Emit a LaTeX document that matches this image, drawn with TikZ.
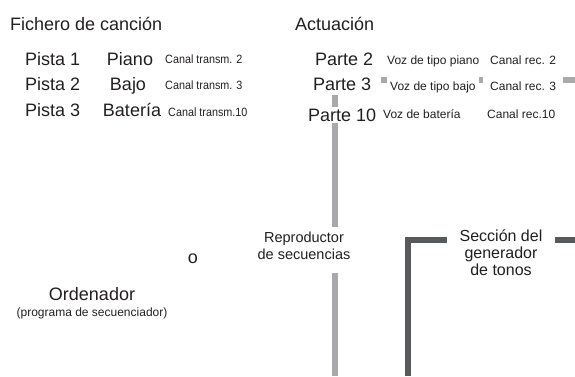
\documentclass[tikz,border=0pt]{standalone}
\usepackage{fontspec}
\setmainfont{Liberation Sans}
\newfontfamily\narrowsans[FakeStretch=0.9]{Liberation Sans}
\usetikzlibrary{positioning, backgrounds}
\definecolor{ink}{HTML}{231F20}
\definecolor{barlight}{HTML}{A7A9AC}
\definecolor{bardark}{HTML}{58595B}

\begin{document}
\begin{tikzpicture}[
	x=1pt, y=-1pt,
	every node/.style={text=ink, inner sep=0pt},
	big/.style={font=\fontsize{18}{21}\selectfont},
	mid/.style={font=\fontsize{14.5}{17}\selectfont, align=center},
	small/.style={font=\fontsize{12}{14}\selectfont},
	tiny/.style={font=\narrowsans\fontsize{12}{14}\selectfont},
	cover/.style={fill=white},
	lightbar/.style={draw=barlight, line width=5.5pt},
	darkbar/.style={draw=bardark, line width=6pt}
]
\useasboundingbox (0,0) rectangle (575,376);

% Song file
\node[big, anchor=base west] (song) at (10,30) {Fichero de canción};
\node[big, anchor=base west] (track1) at (25,65) {Pista 1};
\node[big, anchor=base] (piano) at (130,65) {Piano};
\node[tiny, anchor=base west] (tx1) at (165,63) {Canal transm. 2};
\node[big, anchor=base west] (track2) at (25,90) {Pista 2};
\node[big, anchor=base] (bass) at (128,90) {Bajo};
\node[tiny, anchor=base west] (tx2) at (165,89) {Canal transm. 3};
\node[big, anchor=base west] (track3) at (25,116) {Pista 3};
\node[big, anchor=base] (drums) at (132,116) {Batería};
\node[tiny, anchor=base west] (tx3) at (168,116) {Canal transm.10};

% Performance
\node[big, anchor=base west] (perf) at (295,30) {Actuación};
\node[big, anchor=base west] (part2) at (315,65) {Parte 2};
\node[small, anchor=base west] (voice2) at (387,64) {Voz de tipo piano};
\node[small, anchor=base west] (rx2) at (490,64) {Canal rec. 2};
\node[big, anchor=base west] (part3) at (313,90) {Parte 3};
\node[small, cover, inner xsep=3.5pt, inner ysep=5pt, anchor=base west] (voice3) at (386.5,90) {Voz de tipo bajo};
\node[small, cover, inner xsep=7pt, inner ysep=5pt, anchor=base west] (rx3) at (483,90) {Canal rec. 3};
\node[big, cover, inner ysep=1.5pt, anchor=base west] (part10) at (308,121) {Parte 10};
\node[small, anchor=base west] (voice10) at (383,118) {Voz de batería};
\node[small, anchor=base west] (rx10) at (487,118) {Canal rec.10};

% Devices
\node[mid, cover, inner xsep=4pt, inner ysep=4.5pt, text depth=9.5pt, anchor=north] (player) at (304,227) {Reproductor\\de secuencias};
\node[big, anchor=base] (or) at (193,263) {o};
\node[mid, font=\fontsize{16}{17}\selectfont, cover, inner xsep=13pt, inner ysep=2pt, anchor=north] (tonegen) at (501,228) {Sección del\\generador\\de tonos};
\node[big, anchor=base] (computer) at (92,300) {Ordenador};
\node[small, anchor=base] (seqprog) at (92,316) {(programa de secuenciador)};

% Lines
\begin{scope}[on background layer]
\coordinate (bartop) at (335,95);
\coordinate (barbot) at (335,376);
\draw[lightbar] (bartop) -- (barbot);
\coordinate (rowstart) at (381,80);
\coordinate (rowend) at (575,80);
\draw[lightbar, line width=6pt] (rowstart) -- (rowend);
\coordinate (genbot) at (408,376);
\coordinate (genend) at (575,240);
\draw[darkbar] (genbot) |- (genend);
\end{scope}

\end{tikzpicture}
\end{document}
